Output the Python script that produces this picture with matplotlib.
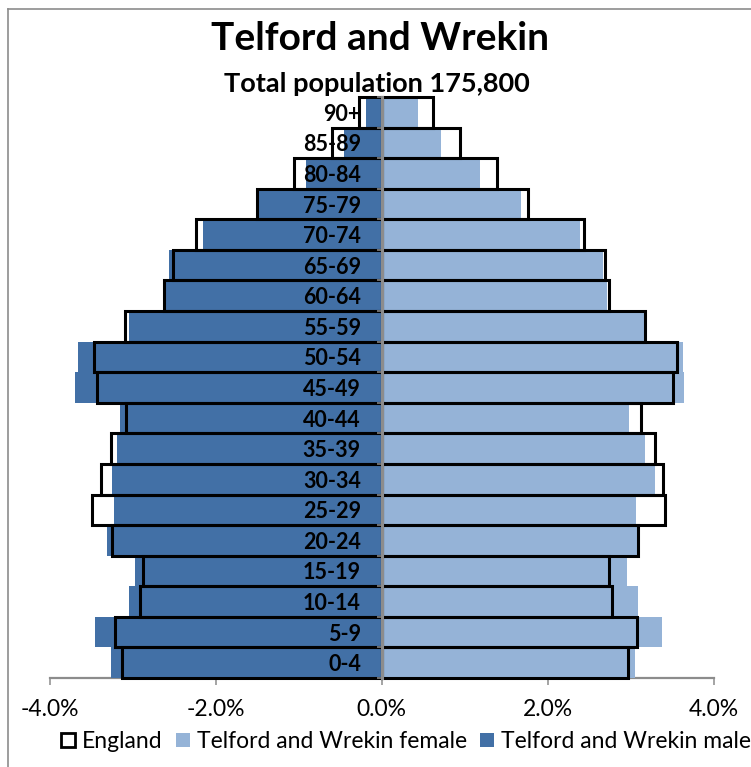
#!/usr/bin/env python
# coding: utf-8
"""
Population pyramid, Telford and Wrekin against England.
"""

import numpy as np
import matplotlib
matplotlib.use('Agg')
import matplotlib.pyplot as plt
from matplotlib.patches import Patch
from matplotlib.lines import Line2D


# pylint: disable=invalid-name

ages = ['0-4', '5-9', '10-14', '15-19', '20-24', '25-29', '30-34', '35-39', '40-44', '45-49',
        '50-54', '55-59', '60-64', '65-69', '70-74', '75-79', '80-84', '85-89', '90+']

# percent of total population
tw_male = [3.27, 3.46, 3.05, 2.97, 3.31, 3.23, 3.25, 3.19, 3.16, 3.70,
           3.66, 3.05, 2.63, 2.56, 2.16, 1.50, 0.91, 0.46, 0.19]
tw_female = [3.05, 3.38, 3.09, 2.96, 3.08, 3.07, 3.30, 3.17, 2.98, 3.65,
             3.63, 3.16, 2.72, 2.67, 2.39, 1.68, 1.19, 0.71, 0.44]
eng_male = [3.13, 3.22, 2.92, 2.88, 3.25, 3.49, 3.38, 3.26, 3.08, 3.43,
            3.47, 3.09, 2.63, 2.52, 2.24, 1.50, 1.06, 0.60, 0.27]
eng_female = [2.97, 3.08, 2.78, 2.74, 3.09, 3.41, 3.39, 3.29, 3.12, 3.51,
              3.56, 3.17, 2.74, 2.69, 2.44, 1.76, 1.39, 0.94, 0.62]

xticks = [-4, -2, 0, 2, 4]
xticklabels = ['-4.0%', '-2.0%', '0.0%', '2.0%', '4.0%']

title = 'Telford and Wrekin'
subtitle = 'Total population 175,800'

MALE_COL = '#4270A6'
FEMALE_COL = '#95B3D7'
GREY = '#8C8C8C'
FONT = ['Lato', 'DejaVu Sans']


def main():
    plt.rcParams['font.family'] = FONT
    W, H = 751, 767
    fig = plt.figure(figsize=(W/100, H/100), dpi=100)
    ax = fig.add_axes([50/W, 1 - 678/H, 663.5/W, 581/H])

    y = np.arange(len(ages))
    ax.barh(y, -np.array(tw_male), height=1.0, color=MALE_COL, zorder=2)
    ax.barh(y, tw_female, height=1.0, color=FEMALE_COL, zorder=2)
    # England drawn as outlines on top
    for vals in (-np.array(eng_male), np.array(eng_female)):
        ax.barh(y, vals, height=1.0, facecolor='none', edgecolor='black', linewidth=2.2,
                zorder=3, clip_on=False)
    # end for

    ax.set_xlim(-4, 4)
    ax.set_ylim(-0.5, len(ages) - 0.5)

    for side in ('top', 'right'):
        ax.spines[side].set_visible(False)
    # end for
    ax.spines['left'].set_position(('data', 0))
    ax.spines['left'].set_color(GREY)
    ax.spines['left'].set_linewidth(2.2)
    ax.spines['left'].set_zorder(5)
    ax.spines['bottom'].set_color(GREY)
    ax.spines['bottom'].set_linewidth(1.6)
    ax.spines['bottom'].set_zorder(1)

    ax.set_xticks(xticks, xticklabels)
    ax.tick_params(axis='x', length=5, width=1.1, color=GREY, pad=10, labelsize=16.5)

    ax.set_yticks(y, ages)
    ax.set_yticks(np.arange(len(ages) + 1) - 0.5, minor=True)
    ax.tick_params(axis='y', which='major', length=0, pad=15, labelsize=15.5)
    ax.tick_params(axis='y', which='minor', length=3.6, width=1.1, color=GREY)
    for lbl in ax.get_yticklabels():
        lbl.set_fontweight('bold')
    # end for
    ax.yaxis.set_zorder(5)

    fig.text(380/W, 1 - 50/H, title, ha='center', va='baseline', fontsize=28,
             fontweight='bold')
    fig.text(377/W, 1 - 91.7/H, subtitle, ha='center', va='baseline', fontsize=19.5,
             fontweight='bold')

    handles = [Patch(facecolor='white', edgecolor='black', linewidth=2),
               Patch(facecolor=FEMALE_COL), Patch(facecolor=MALE_COL)]
    labels = ['England', 'Telford and Wrekin female', 'Telford and Wrekin male']
    fig.legend(handles, labels, loc='center', bbox_to_anchor=(406/W, 1 - 741.7/H), ncol=3,
               frameon=False, fontsize=16.5, handlelength=0.6, handleheight=0.6,
               handletextpad=0.3, columnspacing=0.6, borderpad=0)

    # outer chart frame, only its top and left edges are in view
    fig.add_artist(Line2D([7.5/W, 7.5/W], [0, 1 - 9/H], color=GREY, linewidth=1.2))
    fig.add_artist(Line2D([7.5/W, 1], [1 - 9/H, 1 - 9/H], color=GREY, linewidth=1.2))

    fig.savefig('out.png', dpi=100, facecolor='white')
# end func


if __name__ == "__main__":
    main()
# end if
